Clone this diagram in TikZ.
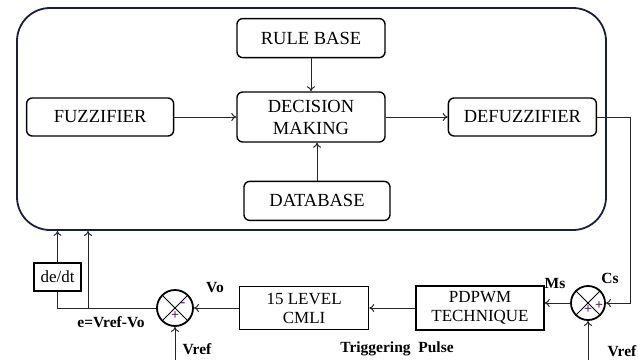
\documentclass[tikz,border=0pt]{standalone}
\usepackage{fontspec}
\setmainfont{Liberation Serif}
\usetikzlibrary{positioning}
\usetikzlibrary{arrows.meta}
\definecolor{framec}{rgb}{0.1,0.12,0.25}
\definecolor{signc}{rgb}{0.35,0.1,0.45}
\tikzset {
  % outer frame of the fuzzy controller
  frame/.style = {
    draw = framec,
    line width = 1.8pt,
    rounded corners = 33pt,
    minimum width = 589pt,
    minimum height = 222pt
  },
  % block inside the fuzzy controller
  block/.style = {
    draw = black,
    line width = 1.4pt,
    rounded corners = 2mm,
    align = center,
    inner sep = 2pt,
    font = \fontsize{18.5}{22}\selectfont
  },
  % plain block of the feedback loop
  pblock/.style = {
    draw = black,
    line width = 1.4pt,
    align = center,
    inner sep = 0,
    font = \fontsize{17}{19}\selectfont
  },
  % summing junction
  summer/.style = {
    draw = black,
    circle,
    line width = 1.8pt,
    minimum size = 36pt,
    inner sep = 0,
    path picture = {
      \draw[line width = 1pt]
        (path picture bounding box.north west) -- (path picture bounding box.south east)
        (path picture bounding box.north east) -- (path picture bounding box.south west);
    }
  },
  sign/.style = {
    text = signc,
    inner sep = 0,
    font = \fontsize{14}{14}\selectfont\bfseries
  },
  lbl/.style = {
    inner sep = 0,
    font = \fontsize{15.5}{17}\selectfont\bfseries
  }
}
\tikzset {
  % path with an arrow at its end
  arr/.style = {
    draw = black!85,
    line width = 1pt,
    -{To[length = 5pt, width = 8pt]}
  },
  % path with no arrow
  narr/.style = {
    draw = black!85,
    line width = 1pt
  }
}
\begin{document}
\begin{tikzpicture}[x = 1pt, y = -1pt]
    \useasboundingbox (0, 0) rectangle (638, 360);
    % fuzzy controller
    \node[frame] (flc) at (311.5, 119) {};
    \node[block, minimum width = 148pt, minimum height = 50pt] (dm) at (311, 117) {DECISION\\MAKING};
    \node[block, minimum width = 148pt, minimum height = 39pt] (rule) [above = 33pt of dm] {RULE BASE};
    \node[block, minimum width = 147pt, minimum height = 38pt] (fuzz) [left = 62pt of dm] {FUZZIFIER};
    \node[block, minimum width = 148pt, minimum height = 38pt] (defuzz) [right = 62pt of dm] {DEFUZZIFIER};
    \node[block, minimum width = 146pt, minimum height = 39pt] (db) [below = 38pt of dm, xshift = 6pt] {DATABASE};

    % feedback loop
    \node[summer] (sum1) at (175, 308) {};
    \node[pblock, minimum width = 129pt, minimum height = 43pt] (cmli) [right = 45pt of sum1] {15 LEVEL\\CMLI};
    \node[pblock, minimum width = 128pt, minimum height = 44pt] (pwm) [right = 46pt of cmli] {PDPWM\\TECHNIQUE};
    \node[summer, minimum size = 34pt] (sum2) at (588, 303) {};
    \node[pblock, minimum width = 47pt, minimum height = 28pt] (dedt) at (57.5, 277) {de/dt};
    \coordinate (split) at (88, 308);
    \coordinate (cs-turn) at (630, 117);
    \coordinate (vref1) at (175, 360);
    \coordinate (vref2) at (588, 360);

    \node[sign] (sum1-minus) at ([xshift = 8pt, yshift = 3pt] sum1.center) {-};
    \node[sign] (sum1-plus) at ([yshift = -8pt] sum1.center) {+};
    \node[sign] (sum2-plus-a) at ([yshift = -7pt] sum2.center) {+};
    \node[sign] (sum2-plus-b) at ([xshift = 11pt, yshift = -3pt] sum2.center) {+};

    \node[lbl] (vo) at (215, 288) {Vo};
    \node[lbl] (err) at (111, 322) {e=Vref-Vo};
    \node[lbl] (vref1-lbl) at (197, 349) {Vref};
    \node[lbl] (trig) at (397, 349) {Triggering\ \ Pulse};
    \node[lbl] (ms) at (555, 283) {Ms};
    \node[lbl] (cs) at (610, 278) {Cs};
    \node[lbl] (vref2-lbl) at (622, 351) {Vref};

    \draw[arr] (fuzz) -- (dm);
    \draw[arr] (dm) -- (defuzz);
    \draw[arr] (rule) -- (dm);
    \draw[arr] (db.north) -- (db.north |- dm.south);
    \draw[arr] (defuzz.east) -- (cs-turn) |- (sum2.east);
    \draw[arr] (sum2.west) -- (sum2.west -| pwm.east);
    \draw[arr] (pwm) -- (cmli);
    \draw[arr] (cmli) -- (sum1);
    \draw[narr] (sum1.west) -| (dedt.south);
    \draw[arr] (dedt.north) -- (dedt.north |- flc.south);
    \draw[arr] (split) -- (split |- flc.south);
    \draw[arr] (vref1) -- (sum1.south);
    \draw[arr] (vref2) -- (sum2.south);
  \end{tikzpicture}
\end{document}
